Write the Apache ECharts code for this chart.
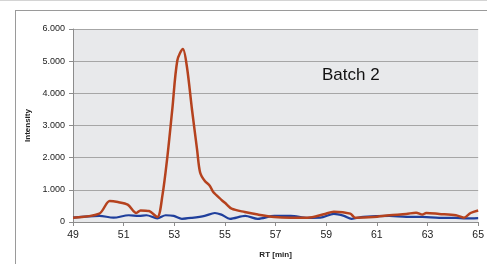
<!DOCTYPE html>
<html>
<head>
<meta charset="utf-8">
<script src="https://cdn.jsdelivr.net/npm/echarts@6/dist/echarts.min.js"></script>
<style>
  html, body { margin: 0; padding: 0; background: #fff; }
  #chart { width: 487px; height: 264px; }
</style>
</head>
<body>
<div id="chart"></div>
<script>
// Batch 2 - red trace (RT [min], intensity)
const redRT = [49, 50.04, 50.45, 50.77, 51.16, 51.5, 51.67, 52.0, 52.33, 52.53, 52.73, 52.92, 53.12, 53.34,
  53.5, 53.7, 53.9, 54.02, 54.2, 54.4, 54.53, 54.86, 55.05, 55.26, 55.78, 56.3, 56.95, 57.6, 58.26,
  58.9, 59.3, 59.95, 60.14, 60.86, 61.5, 62.16, 62.55, 62.8, 62.95, 63.46, 64.12, 64.44, 64.7, 65]
const redVal = [135, 260, 650, 620, 540, 280, 360, 340, 155, 820, 2050, 3490, 5020, 5380,
  4820, 3490, 2250, 1540, 1280, 1130, 940, 690, 560, 415, 310, 230, 155, 135, 135,
  240, 320, 260, 135, 155, 210, 250, 290, 230, 280, 250, 210, 135, 280, 360]

// blue trace
const blueRT = [49, 50.04, 50.6, 51.2, 51.6, 51.9, 52.33, 52.66, 52.98, 53.3, 53.7, 54.2, 54.6, 54.86,
  55.2, 55.8, 56.3, 56.95, 57.6, 58.26, 58.77, 59.3, 59.7, 60.0, 60.46, 61.5, 62.16, 62.8, 63.46,
  64.12, 64.5, 65]
const blueVal = [135, 190, 135, 210, 190, 210, 115, 210, 190, 100, 130, 190, 280, 230,
  100, 190, 100, 190, 190, 130, 135, 250, 190, 100, 160, 190, 160, 160, 130,
  130, 110, 120]

const xTicks = [49, 51, 53, 55, 57, 59, 61, 63, 65]
const yTicks = [0, 1000, 2000, 3000, 4000, 5000, 6000]

const chart = echarts.init(document.getElementById('chart'))

function fmtThousands(v) {
  // 6000 -> 6.000
  if (v === 0) return '0'
  const s = String(v)
  return s.replace(/\B(?=(\d{3})+(?!\d))/g, '.')
}

const font = 'Liberation Sans, Arial, sans-serif'

chart.setOption({
  animation: false,
  grid: { left: 73, right: 5, top: 29, bottom: 41, show: true, backgroundColor: '#e8e9eb', borderWidth: 0 },
  graphic: [
    { type: 'line', shape: { x1: 0, y1: 0.5, x2: 487, y2: 0.5 }, style: { stroke: '#d4d4d4', lineWidth: 1 } },
    { type: 'line', shape: { x1: 15, y1: 10.5, x2: 487, y2: 10.5 }, style: { stroke: '#9a9a9a', lineWidth: 1 } },
    { type: 'line', shape: { x1: 15.5, y1: 10, x2: 15.5, y2: 264 }, style: { stroke: '#9a9a9a', lineWidth: 1 } },
    { type: 'text', left: 322, top: 67, style: { text: 'Batch 2', font: '17px ' + font, fill: '#111' } }
  ],
  xAxis: {
    type: 'value',
    min: xTicks[0],
    max: xTicks[xTicks.length - 1],
    interval: 2,
    name: 'RT [min]',
    nameLocation: 'middle',
    nameGap: 29,
    nameTextStyle: { fontFamily: font, fontSize: 8, fontWeight: 'bold', color: '#222' },
    axisLine: { show: true, lineStyle: { color: '#8c8c8c', width: 1 } },
    axisTick: { show: true, length: 4, lineStyle: { color: '#8c8c8c' } },
    axisLabel: { fontFamily: font, fontSize: 10.5, color: '#222', margin: 8 },
    splitLine: { show: false }
  },
  yAxis: {
    type: 'value',
    min: yTicks[0],
    max: yTicks[yTicks.length - 1],
    interval: 1000,
    name: 'Intensity',
    nameLocation: 'middle',
    nameGap: 34,
    nameRotate: 90,
    nameTextStyle: { fontFamily: font, fontSize: 8, fontWeight: 'bold', color: '#222' },
    axisLine: { show: true, lineStyle: { color: '#8c8c8c', width: 1 } },
    axisTick: { show: true, length: 4, lineStyle: { color: '#8c8c8c' } },
    axisLabel: { fontFamily: font, fontSize: 9, color: '#222', margin: 8, formatter: fmtThousands },
    splitLine: { show: true, lineStyle: { color: '#a6a6a6', width: 1 } }
  },
  series: [
    {
      name: 'blue',
      type: 'line',
      data: blueRT.map((x, i) => [x, blueVal[i]]),
      showSymbol: false,
      smooth: 0.3,
      lineStyle: { color: '#1f3f9c', width: 2.2 },
      z: 2
    },
    {
      name: 'red',
      type: 'line',
      data: redRT.map((x, i) => [x, redVal[i]]),
      showSymbol: false,
      smooth: 0.3,
      lineStyle: { color: '#b5421e', width: 2.5 },
      z: 3
    }
  ]
})
</script>
</body>
</html>
